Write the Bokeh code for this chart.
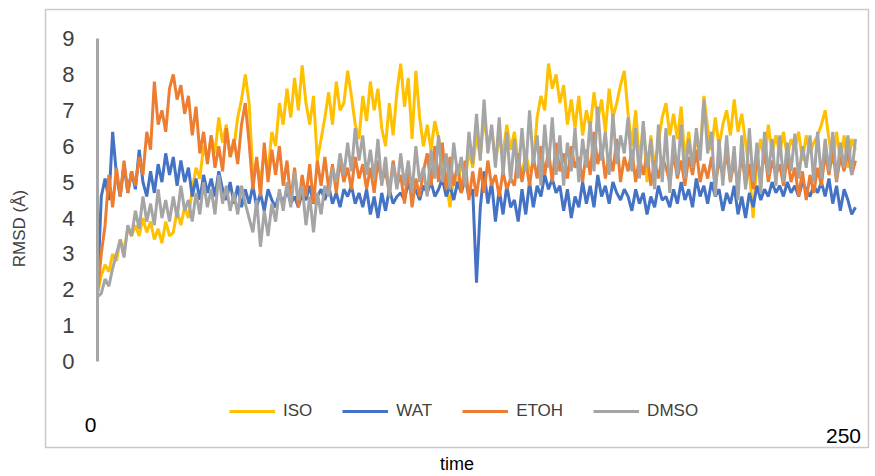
import numpy as np
from bokeh.plotting import figure
from bokeh.models import (Range1d, FixedTicker, Label, Legend, LegendItem,
                          LinearAxis)
from bokeh.embed import file_html
from bokeh.resources import INLINE

FONT = "Liberation Sans"
TEXT = "#404040"

# RMSD traces (Å), one sample every 1.25 time units from 0 to 250
iso = [
    1.9, 2.4, 2.7, 2.5, 3.0, 2.8, 3.4, 3.1, 3.7, 3.5,
    3.8, 3.5, 4.0, 3.6, 3.9, 3.4, 3.7, 3.3, 3.9, 3.5,
    3.6, 4.2, 3.8, 4.3, 4.0, 4.8, 5.4, 5.1, 6.0, 5.6,
    6.3, 5.8, 6.8, 6.1, 6.6, 5.7, 6.0, 6.8, 7.3, 8.0,
    7.2, 5.2, 5.6, 5.0, 5.8, 5.3, 6.4, 6.0, 7.2, 6.6,
    7.6, 6.8, 7.9, 7.0, 8.25, 7.2, 6.6, 7.4, 5.6, 6.2,
    6.8, 7.5, 6.6, 7.8, 7.0, 7.2, 8.1, 7.4, 6.6, 6.2,
    7.4, 6.7, 7.8, 7.0, 7.6, 6.5, 6.0, 7.2, 6.3, 7.5,
    8.3, 7.1, 7.9, 6.2, 8.1, 6.8, 6.0, 6.6, 5.9, 6.7,
    6.2, 5.8, 5.0, 4.3, 5.2, 4.8, 5.6, 5.0, 5.9, 5.4,
    6.3, 5.7, 6.8, 6.0, 6.5, 5.6, 6.2, 5.8, 6.6, 5.9,
    6.4, 5.6, 5.2, 5.8, 5.3, 5.5, 6.8, 7.4, 7.0, 8.3,
    7.6, 8.0, 7.2, 7.7, 6.6, 7.3, 6.5, 7.4, 6.3, 7.0,
    6.5, 7.5, 6.7, 7.3, 6.4, 7.6, 6.8, 7.2, 7.7, 8.1,
    6.9, 6.0, 7.0, 5.5, 6.6, 5.0, 6.3, 5.4, 6.1, 6.8,
    7.2, 6.3, 6.9, 6.2, 7.1, 5.6, 6.4, 5.5, 6.2, 5.8,
    7.4, 6.5, 5.9, 6.8, 6.0, 6.6, 7.0, 6.3, 7.3, 6.4,
    6.9, 6.1, 5.3, 4.0, 5.6, 6.2, 5.5, 6.6, 5.8, 6.3,
    5.8, 6.4, 5.7, 6.2, 5.9, 6.4, 5.6, 6.3, 5.8, 6.1,
    6.3, 6.6, 7.0, 6.2, 5.5, 6.4, 5.6, 6.3, 5.4, 6.2,
    5.9,
]

wat = [
    2.0, 4.6, 5.1, 4.5, 6.4, 5.2, 4.6, 5.5, 4.7, 5.3,
    4.8, 5.9, 5.0, 4.6, 5.3, 4.7, 5.5, 5.0, 5.8, 5.2,
    5.7, 4.9, 5.6, 5.0, 5.4, 4.6, 5.1, 4.5, 5.2, 4.7,
    5.1, 4.6, 5.3, 4.8, 4.5, 5.0, 4.4, 4.9, 4.3, 4.8,
    4.4, 4.9, 4.3, 4.7, 4.2, 4.8, 4.5, 4.3, 4.7, 4.4,
    4.8, 4.4, 4.6, 4.3, 4.7, 4.5, 4.9, 4.4, 4.6, 4.8,
    4.5, 4.9, 4.4, 4.7, 4.3, 4.8, 4.6, 4.9, 4.4, 4.7,
    4.3, 4.8, 4.1, 4.6, 4.0, 4.7, 4.2, 4.8, 4.4, 4.6,
    4.7, 4.5, 5.0, 4.6, 4.8, 4.5, 4.9, 4.7, 5.0, 4.6,
    4.8, 5.1, 4.6, 4.9, 4.5, 5.0, 4.7, 5.1, 4.6, 4.8,
    2.2, 4.3, 5.3, 4.4, 5.0, 3.9, 4.8, 4.1, 4.9, 4.3,
    4.5, 3.9, 4.8, 4.1, 5.0, 4.3, 4.9, 4.6, 5.2, 4.8,
    5.1, 4.7, 4.9, 4.2, 4.8, 4.0, 4.6, 4.3, 5.0, 4.4,
    4.9, 4.3, 5.2, 4.6, 4.9, 4.4, 5.0, 4.7, 4.5, 4.8,
    4.6, 4.2, 4.8, 4.4, 4.7, 4.1, 4.6, 4.3, 4.9, 4.5,
    4.6, 4.3, 4.8, 4.4, 5.0, 4.5, 4.8, 4.3, 5.1, 4.6,
    4.9, 4.4, 5.0, 4.6, 4.8, 4.2, 4.7, 4.4, 4.9, 4.1,
    4.6, 4.0, 4.7, 4.3, 4.9, 4.5, 4.8, 4.6, 5.0, 4.7,
    4.9, 4.6, 5.0, 4.7, 4.9, 4.6, 5.0, 4.8, 4.6, 4.9,
    4.7, 5.0, 4.6, 5.1, 4.4, 4.9, 4.2, 4.8, 4.5, 4.1,
    4.3,
]

etoh = [
    1.9, 3.0, 3.8, 5.2, 4.3, 5.4, 4.6, 5.6, 4.7, 5.3,
    4.9, 5.7, 5.2, 6.4, 5.9, 7.8, 6.6, 7.0, 6.4, 7.6,
    8.0, 7.3, 7.7, 6.9, 7.4, 6.3, 7.1, 5.8, 6.4, 5.5,
    6.3, 5.4, 6.0, 5.3, 6.5, 5.7, 6.2, 5.5, 6.6, 7.2,
    6.1, 4.8, 5.7, 4.6, 6.1, 5.0, 5.9, 5.2, 6.0, 4.9,
    5.6, 4.5, 5.4, 4.3, 5.2, 4.6, 5.5, 4.4, 5.6, 4.9,
    5.7, 4.8, 5.5, 4.7, 5.6, 5.0, 5.4, 4.8, 5.7, 5.1,
    5.5, 4.8, 5.4, 4.7, 5.6, 5.0, 5.3, 4.7, 5.6, 4.9,
    5.2, 4.4, 5.4, 4.3, 5.1, 4.6, 5.3, 5.8, 4.9, 6.0,
    5.0, 6.1, 4.8, 5.7, 4.9, 5.5, 4.7, 5.6, 4.5, 5.3,
    4.6, 5.4, 4.7, 5.6, 4.9, 5.2, 4.6, 5.3, 4.8, 5.1,
    4.9, 5.8, 5.0, 5.6, 4.9, 5.7, 5.1, 6.0, 5.2, 5.9,
    5.0, 6.1, 5.3, 5.8, 5.1, 6.0, 5.4, 5.7, 5.0, 5.9,
    5.2, 6.4, 5.5, 6.0, 5.1, 5.8, 5.3, 6.2, 5.0, 5.7,
    5.3, 5.9, 5.0, 5.7, 5.2, 5.8, 4.9, 5.6, 5.1, 5.7,
    5.4, 5.0, 5.8, 5.1, 5.6, 4.9, 5.7, 5.2, 5.9, 5.0,
    5.5, 5.1, 5.7, 4.9, 5.6, 5.2, 5.8, 5.0, 5.6, 4.9,
    5.8, 4.9, 5.5, 4.8, 5.7, 5.1, 5.9, 5.0, 5.6, 5.2,
    5.5, 4.9, 5.7, 5.0, 5.4, 4.6, 5.3, 4.5, 5.2, 4.7,
    5.4, 4.9, 5.8, 5.2, 5.9, 5.0, 5.7, 5.3, 5.9, 5.2,
    5.6,
]

dmso = [
    1.8, 1.9, 2.3, 2.1, 2.6, 3.0, 3.4, 2.9, 3.8, 3.5,
    4.2, 3.7, 4.6, 3.9, 4.4, 3.8, 4.8, 4.0, 4.5, 3.9,
    4.6, 4.0, 4.9, 4.2, 4.5, 3.9, 4.7, 4.1, 5.0, 4.3,
    4.8, 4.1, 5.2, 4.4, 4.9, 4.2, 4.7, 4.1, 4.9, 4.4,
    4.0, 3.6, 4.5, 3.2, 4.2, 3.5, 4.4, 3.9, 4.8, 4.2,
    5.0, 4.3, 5.3, 4.5, 4.9, 3.8, 4.6, 3.6, 4.7, 4.1,
    4.9, 4.6, 5.4, 5.0, 5.8, 5.2, 6.1, 5.3, 6.5, 5.6,
    6.3, 5.2, 5.9, 5.1, 6.2, 4.9, 5.7, 4.6, 5.5, 4.8,
    5.8, 4.9, 5.6, 4.7, 6.0, 5.0, 5.4, 4.6, 5.9, 5.1,
    6.3, 5.0, 5.8, 4.8, 6.1, 5.2, 5.7, 4.9, 6.4, 5.5,
    6.9, 5.6, 7.3, 5.8, 6.6, 5.4, 6.8, 5.2, 6.4, 5.0,
    6.2, 5.1, 6.5, 5.3, 7.0, 5.5, 6.3, 4.9, 6.6, 5.4,
    6.8, 5.2, 6.3, 4.9, 6.1, 5.3, 6.5, 5.0, 6.2, 5.4,
    6.7, 5.3, 7.1, 5.6, 6.4, 5.2, 6.9, 5.5, 6.3, 5.8,
    6.8, 5.3, 6.5, 5.1, 6.7, 5.4, 6.2, 4.8, 6.6, 5.0,
    6.5, 4.7, 6.3, 5.2, 6.6, 5.1, 6.2, 5.4, 6.5, 5.6,
    7.3, 5.8, 6.4, 4.6, 6.2, 4.9, 6.3, 5.0, 6.0, 4.5,
    6.3, 4.8, 6.5, 5.0, 6.1, 4.7, 6.4, 5.2, 6.2, 4.9,
    6.3, 5.0, 6.1, 5.3, 6.35, 5.1, 6.0, 5.4, 6.3, 5.0,
    6.4, 5.1, 6.2, 5.3, 6.4, 5.05, 6.1, 5.4, 6.3, 5.2,
    6.2,
]

series_names = ["ISO", "WAT", "ETOH", "DMSO"]
series_colors = ["#FFC000", "#4472C4", "#ED7D31", "#A5A5A5"]
y_ticks = [0, 1, 2, 3, 4, 5, 6, 7, 8, 9]
x_tick_labels = ["0", "250"]

time = np.arange(len(iso)) * 1.25

# the frame is the whole bordered chart area; data 0..250 x 0..9 sits inside it
p = figure(width=875, height=476, output_backend="svg", toolbar_location=None,
           x_range=Range1d(-17.15, 254.29), y_range=Range1d(-2.39, 9.806),
           x_axis_location=None, y_axis_location=None,
           min_border_left=45, min_border_right=7,
           min_border_top=9, min_border_bottom=28)

p.background_fill_color = "white"
p.border_fill_color = "white"
p.outline_line_color = "#C9C9C9"
p.outline_line_width = 1.5
p.grid.visible = False

# vertical value axis drawn at t = 0, spanning 0..9
yax = LinearAxis(fixed_location=0, bounds=(0, 9),
                 ticker=FixedTicker(ticks=y_ticks))
yax.axis_line_color = "#A6A6A6"
yax.axis_line_width = 3
yax.major_tick_line_color = None
yax.minor_tick_line_color = None
yax.major_label_standoff = 17
yax.major_label_text_font = FONT
yax.major_label_text_font_size = "22px"
yax.major_label_text_color = TEXT
p.add_layout(yax, "left")

# title of the value axis, outside the chart area
ytitle = LinearAxis(ticker=FixedTicker(ticks=[]))
ytitle.axis_line_color = None
ytitle.major_tick_line_color = None
ytitle.minor_tick_line_color = None
ytitle.axis_label = "RMSD (Å)"
ytitle.axis_label_text_font = FONT
ytitle.axis_label_text_font_size = "17px"
ytitle.axis_label_text_font_style = "normal"
ytitle.axis_label_text_color = TEXT
ytitle.axis_label_standoff = 17
p.add_layout(ytitle, "left")

# time axis below the chart area: title only
xax = LinearAxis(ticker=FixedTicker(ticks=[]))
xax.axis_line_color = None
xax.major_tick_line_color = None
xax.minor_tick_line_color = None
xax.axis_label = "time"
xax.axis_label_text_font = FONT
xax.axis_label_text_font_size = "18px"
xax.axis_label_text_font_style = "normal"
xax.axis_label_text_color = "black"
xax.axis_label_standoff = 6
p.add_layout(xax, "below")

renderers = []
for name, color, vals in zip(series_names, series_colors, [iso, wat, etoh, dmso]):
    r = p.line(time, vals, line_color=color, line_width=3)
    renderers.append(r)

legend = Legend(
    items=[LegendItem(label=n, renderers=[r]) for n, r in zip(series_names, renderers)],
    orientation="horizontal", location=(184, 26),
    glyph_width=46, glyph_height=20, label_height=20,
    label_standoff=8, spacing=30, padding=0, margin=0,
    border_line_color=None, background_fill_alpha=0,
    label_text_font=FONT, label_text_font_size="17px", label_text_color=TEXT,
)
p.add_layout(legend, "center")

# end labels of the time axis
p.add_layout(Label(x=0, y=-1.75, x_offset=-7, text=x_tick_labels[0],
                   text_align="center", text_baseline="middle",
                   text_font=FONT, text_font_size="21px", text_color="black"))
p.add_layout(Label(x=250, y=-2.08, x_offset=-12, text=x_tick_labels[1],
                   text_align="center", text_baseline="middle",
                   text_font=FONT, text_font_size="21px", text_color="black"))

open("out.html", "w").write(file_html(p, INLINE))
